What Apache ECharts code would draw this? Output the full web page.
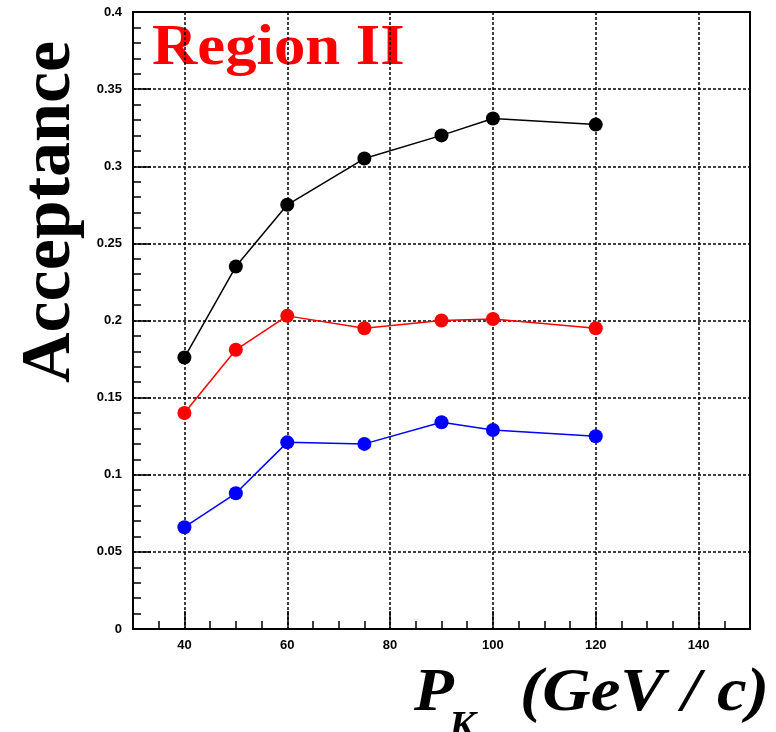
<!DOCTYPE html>
<html>
<head>
<meta charset="utf-8">
<script src="https://cdn.jsdelivr.net/npm/echarts@6/dist/echarts.min.js"></script>
<style>
  html, body { margin: 0; padding: 0; background: #fff; }
  #chart { width: 776px; height: 732px; }
</style>
</head>
<body>
<div id="chart"></div>
<script>
// momentum points (GeV/c)
var momenta = [40, 50, 60, 75, 90, 100, 120];
var accBlack = [0.176, 0.235, 0.275, 0.305, 0.320, 0.331, 0.327];
var accRed   = [0.140, 0.181, 0.203, 0.195, 0.200, 0.201, 0.195];
var accBlue  = [0.066, 0.088, 0.121, 0.120, 0.134, 0.129, 0.125];

var xTicks = [40, 60, 80, 100, 120, 140];

function pairs(ys) {
    return momenta.map(function (x, i) { return [x, ys[i]]; });
}

function mkSeries(name, color, ys) {
    return {
        name: name,
        type: 'line',
        data: pairs(ys),
        symbol: 'circle',
        symbolSize: 14,
        lineStyle: { color: color, width: 1.5 },
        itemStyle: { color: color },
        z: 5
    };
}

var labelFont = { color: '#000', fontFamily: 'Liberation Sans', fontWeight: 'bold', fontSize: 13 };
var serif = '"Liberation Serif"';

var myChart = echarts.init(document.getElementById('chart'));
var option = {
    animation: false,
    backgroundColor: '#fff',
    grid: {
        left: 133, top: 12, width: 617, height: 617,
        show: true, borderColor: '#000', borderWidth: 2, backgroundColor: 'transparent'
    },
    xAxis: {
        type: 'value',
        min: 30,
        max: 150,
        axisLine: { show: true, onZero: false, lineStyle: { color: '#000', width: 2 } },
        axisTick: { show: true, inside: true, length: 18, customValues: xTicks, lineStyle: { color: '#000', width: 1.5 } },
        minorTick: { show: true, splitNumber: 4, length: 8, lineStyle: { color: '#000', width: 1.5 } },
        axisLabel: Object.assign({ customValues: xTicks, margin: 10 }, labelFont),
        splitLine: { show: true, lineStyle: { color: '#000', type: [3, 2], width: 1.5 } }
    },
    yAxis: {
        type: 'value',
        min: 0,
        max: 0.4,
        interval: 0.05,
        axisLine: { show: true, lineStyle: { color: '#000', width: 2 } },
        axisTick: { show: true, inside: true, length: 18, lineStyle: { color: '#000', width: 1.5 } },
        minorTick: { show: true, splitNumber: 5, length: 8, lineStyle: { color: '#000', width: 1.5 } },
        axisLabel: Object.assign({
            margin: 11,
            formatter: function (v) { return String(+v.toFixed(2)); }
        }, labelFont),
        splitLine: { show: true, lineStyle: { color: '#000', type: [3, 2], width: 1.5 } }
    },
    graphic: [
        {
            type: 'text', x: 152, y: 22, scaleX: 1.12,
            style: { text: 'Region II', fill: '#ff0000', font: 'bold 56px ' + serif }
        },
        {
            type: 'text', x: 86, y: 212, rotation: Math.PI / 2,
            style: {
                text: 'Acceptance', fill: '#000', font: 'bold 70px ' + serif,
                align: 'center', verticalAlign: 'bottom'
            }
        },
        // x axis title: P_K (GeV / c)
        {
            type: 'text', x: 414, y: 663, scaleX: 1.05,
            style: { text: 'P', fill: '#000', font: 'italic bold 62px ' + serif }
        },
        {
            type: 'text', x: 449, y: 708,
            style: { text: 'K', fill: '#000', font: 'italic bold 40px ' + serif }
        },
        {
            type: 'text', x: 520, y: 663, scaleX: 1.08,
            style: { text: '(GeV / c)', fill: '#000', font: 'italic bold 62px ' + serif }
        }
    ],
    series: [
        mkSeries('black', '#000000', accBlack),
        mkSeries('red', '#ff0000', accRed),
        mkSeries('blue', '#0000ff', accBlue)
    ]
};
myChart.setOption(option);
window.addEventListener('resize', function () { myChart.resize(); });
</script>
</body>
</html>
